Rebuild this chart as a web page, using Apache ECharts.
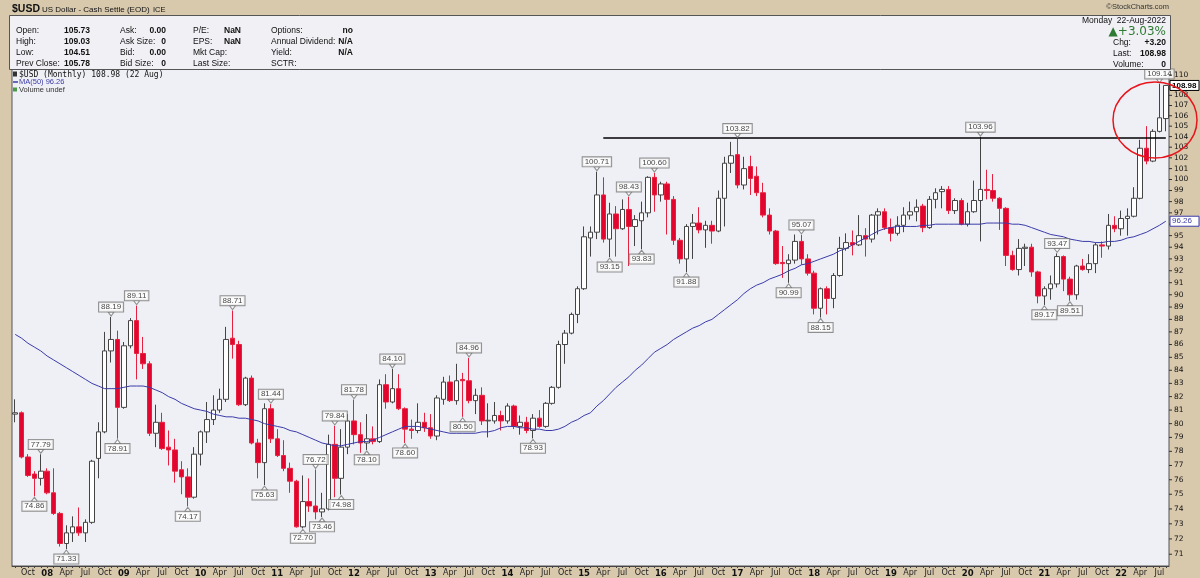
<!DOCTYPE html>
<html>
<head>
<meta charset="utf-8">
<script src="https://cdn.jsdelivr.net/npm/echarts@6/dist/echarts.min.js"></script>
<style>
  html, body { margin: 0; padding: 0; background: #d8c9ad; }
  #chart { width: 1200px; height: 578px; }
</style>
</head>
<body>
<div id="chart"></div>
<script>
// first monthly bar of the chart
const startYear = 2007, startMonth = 8;
const monthNames = ['Jan','Feb','Mar','Apr','May','Jun','Jul','Aug','Sep','Oct','Nov','Dec'];

// monthly bars: [open, high, low, close]
const candles = [
  // 2007 Aug-Dec
  [80.7, 81.8, 80.1, 80.8], [80.8, 80.9, 77.5, 77.6], [77.6, 77.8, 76.2, 76.3], [76.4, 76.6, 74.86, 76.1], [76.1, 77.79, 75.6, 76.6],
  // 2008
  [76.6, 76.8, 75.0, 75.1], [75.1, 76.8, 73.6, 73.7], [73.7, 73.8, 71.5, 71.7], [71.7, 72.9, 71.33, 72.4], [72.4, 73.5, 71.8, 72.8], [72.8, 74.1, 72.2, 72.4],
  [72.4, 73.3, 71.8, 73.1], [73.1, 77.4, 73.0, 77.3], [77.5, 80.1, 76.1, 79.4], [79.4, 87.0, 79.3, 85.5], [85.5, 88.19, 84.6, 86.4], [86.4, 87.1, 78.91, 81.2],
  // 2009
  [81.2, 86.2, 81.1, 85.9], [85.9, 88.1, 85.7, 87.9], [87.9, 89.11, 83.3, 85.3], [85.3, 86.6, 84.1, 84.5], [84.5, 84.7, 79.1, 79.3], [79.3, 81.4, 78.3, 80.1],
  [80.1, 80.8, 78.1, 78.2], [78.3, 79.5, 77.0, 78.1], [78.1, 78.9, 75.8, 76.6], [76.7, 77.3, 75.0, 76.2], [76.2, 76.8, 74.17, 74.8], [74.8, 78.3, 74.7, 77.8],
  // 2010
  [77.8, 79.5, 77.0, 79.4], [79.4, 81.6, 78.6, 80.3], [80.3, 82.1, 79.9, 81.0], [81.0, 82.6, 80.8, 81.8], [81.8, 87.4, 81.6, 86.4], [86.5, 88.71, 84.9, 86.0],
  [86.0, 86.3, 81.3, 81.4], [81.4, 83.5, 81.3, 83.4], [83.4, 83.6, 78.5, 78.6], [78.6, 78.9, 76.1, 77.2], [77.2, 81.5, 75.63, 81.1], [81.1, 81.44, 78.6, 78.9],
  // 2011
  [78.9, 79.6, 77.6, 77.7], [77.7, 78.8, 76.6, 76.8], [76.8, 77.2, 75.1, 75.9], [75.9, 76.0, 72.75, 72.8], [72.8, 76.3, 72.70, 74.5], [74.5, 76.1, 73.8, 74.2],
  [74.2, 76.72, 73.3, 73.8], [73.8, 75.1, 73.46, 74.0], [74.0, 79.2, 73.9, 78.5], [78.5, 79.84, 74.8, 76.1], [76.1, 79.6, 74.98, 78.3], [78.3, 80.7, 77.8, 80.2],
  // 2012
  [80.2, 81.78, 78.5, 79.2], [79.2, 80.1, 77.9, 78.6], [78.6, 80.7, 78.10, 78.9], [78.9, 79.8, 78.5, 78.7], [78.7, 83.3, 78.6, 82.9], [82.9, 83.7, 81.1, 81.6],
  [81.6, 84.10, 81.5, 82.6], [82.6, 83.7, 81.0, 81.1], [81.1, 81.2, 78.60, 79.6], [79.6, 80.3, 78.9, 79.5], [79.5, 81.5, 79.3, 80.1], [80.1, 80.8, 79.4, 79.7],
  // 2013
  [79.7, 80.7, 78.9, 79.1], [79.1, 82.1, 78.8, 81.9], [81.8, 83.5, 81.4, 83.1], [83.1, 83.6, 81.6, 81.7], [81.7, 84.5, 81.4, 83.2], [83.3, 83.8, 80.50, 83.2],
  [83.2, 84.96, 81.5, 81.7], [81.7, 82.6, 80.7, 82.1], [82.1, 82.7, 79.9, 80.2], [80.2, 81.5, 79.0, 80.25], [80.2, 81.6, 80.0, 80.6], [80.6, 80.95, 79.5, 80.2],
  // 2014
  [80.2, 81.5, 80.0, 81.3], [81.3, 81.4, 79.6, 79.8], [79.8, 80.6, 79.2, 80.1], [80.1, 80.5, 79.3, 79.5], [79.5, 80.7, 78.93, 80.4], [80.4, 81.0, 79.7, 79.8],
  [79.8, 81.6, 79.7, 81.5], [81.5, 82.8, 81.4, 82.7], [82.7, 86.3, 82.6, 86.0], [86.0, 87.15, 84.5, 86.9], [86.9, 88.55, 86.8, 88.4], [88.4, 90.7, 87.7, 90.5],
  // 2015
  [90.5, 95.8, 90.4, 94.9], [94.8, 95.8, 93.2, 95.3], [95.3, 100.71, 94.7, 98.6], [98.6, 100.2, 94.4, 94.7], [94.7, 97.9, 93.15, 96.9], [96.9, 97.6, 93.2, 95.6],
  [95.6, 98.2, 95.5, 97.3], [97.3, 98.43, 92.4, 95.8], [95.8, 96.8, 94.1, 96.4], [96.3, 98.0, 93.83, 97.0], [97.0, 100.3, 96.6, 100.2], [100.2, 100.60, 97.1, 98.6],
  // 2016
  [98.6, 99.8, 98.0, 99.6], [99.6, 99.8, 95.1, 98.2], [98.2, 98.5, 94.2, 94.6], [94.6, 94.8, 92.6, 93.0], [93.0, 96.0, 91.88, 95.8], [95.8, 96.9, 93.0, 96.1],
  [96.1, 97.5, 95.2, 95.5], [95.5, 96.3, 93.95, 95.9], [95.9, 96.3, 94.3, 95.4], [95.4, 99.0, 95.3, 98.3], [98.3, 102.1, 95.8, 101.5], [101.5, 103.5, 100.6, 102.2],
  // 2017
  [102.3, 103.82, 99.2, 99.5], [99.5, 102.1, 99.1, 101.0], [101.2, 102.2, 98.6, 100.1], [100.3, 101.2, 98.5, 98.8], [98.8, 99.7, 96.6, 96.8], [96.8, 97.4, 95.1, 95.4],
  [95.4, 95.5, 92.5, 92.6], [92.7, 94.1, 91.4, 92.6], [92.6, 93.4, 90.99, 92.9], [92.9, 95.1, 92.6, 94.5], [94.5, 95.07, 92.5, 93.0], [93.0, 93.4, 91.6, 91.8],
  // 2018
  [91.8, 92.0, 88.4, 88.9], [88.9, 90.6, 88.15, 90.5], [90.5, 90.7, 88.4, 89.7], [89.7, 91.8, 88.9, 91.6], [91.6, 94.9, 91.5, 93.9], [93.9, 95.2, 93.7, 94.4],
  [94.4, 95.45, 93.3, 94.2], [94.2, 96.8, 94.1, 95.0], [95.0, 95.65, 93.2, 94.7], [94.7, 96.9, 94.4, 96.8], [96.8, 97.4, 95.1, 97.1], [97.1, 97.4, 95.5, 95.7],
  // 2019
  [95.7, 96.5, 94.5, 95.2], [95.2, 96.7, 95.0, 95.9], [95.9, 97.5, 95.3, 96.8], [96.8, 98.0, 96.4, 97.1], [97.1, 98.2, 96.25, 97.5], [97.6, 97.8, 95.3, 95.7],
  [95.7, 98.5, 95.6, 98.2], [98.2, 99.2, 97.4, 98.8], [98.9, 99.4, 97.4, 99.1], [99.1, 99.4, 96.9, 97.2], [97.2, 98.3, 96.9, 98.1], [98.1, 98.3, 95.9, 96.0],
  // 2020
  [96.0, 97.9, 95.8, 97.1], [97.1, 99.9, 97.0, 98.1], [98.1, 103.96, 94.5, 99.1], [99.1, 100.9, 98.2, 99.0], [99.0, 100.5, 98.0, 98.3], [98.3, 98.4, 95.5, 97.4],
  [97.4, 97.5, 92.4, 93.3], [93.3, 93.7, 92.0, 92.1], [92.1, 94.7, 91.6, 93.9], [93.9, 94.3, 92.4, 94.0], [94.0, 94.3, 91.5, 91.9], [91.9, 92.0, 89.3, 89.9],
  // 2021
  [89.9, 90.7, 89.17, 90.5], [90.5, 91.6, 89.6, 90.9], [90.9, 93.47, 90.6, 93.2], [93.2, 93.3, 90.3, 91.3], [91.3, 91.5, 89.51, 90.0], [90.0, 92.5, 89.6, 92.4],
  [92.4, 93.0, 92.0, 92.1], [92.1, 93.4, 91.8, 92.6], [92.6, 94.4, 91.8, 94.2], [94.2, 94.5, 93.1, 94.1], [94.1, 96.9, 93.8, 95.9], [95.9, 96.7, 95.3, 95.6],
  // 2022 Jan-Aug
  [95.6, 97.2, 95.0, 96.5], [96.5, 97.4, 95.0, 96.7], [96.7, 99.3, 96.6, 98.3], [98.3, 103.7, 98.2, 102.9], [102.9, 105.0, 101.4, 101.7], [101.7, 104.7, 101.6, 104.5],
  [104.5, 109.14, 104.4, 105.8], [105.73, 109.03, 104.51, 108.98]
];

// 50-month moving average as drawn
const ma50 = [
  86.8, 86.5, 86.1, 85.8, 85.5, 85.1, 84.8, 84.5, 84.2, 83.9,
  83.6, 83.3, 83.0, 82.8, 82.6, 82.6, 82.6, 82.7, 82.8, 82.8,
  82.8, 82.7, 82.5, 82.3, 82.0, 81.8, 81.5, 81.3, 81.1, 81.0,
  80.9, 80.7, 80.6, 80.5, 80.5, 80.4, 80.4, 80.3, 80.2, 80.0,
  79.9, 79.8, 79.7, 79.5, 79.4, 79.2, 79.0, 78.8, 78.6, 78.5,
  78.4, 78.4, 78.5, 78.6, 78.7, 78.7, 78.8, 79.0, 79.2, 79.4,
  79.6, 79.8, 79.8, 79.8, 79.7, 79.6, 79.5, 79.4, 79.3, 79.3,
  79.3, 79.3, 79.3, 79.4, 79.4, 79.5, 79.7, 79.8, 79.8, 79.7,
  79.7, 79.6, 79.6, 79.5, 79.5, 79.6, 79.8, 80.1, 80.3, 80.6,
  80.8, 81.3, 81.7, 82.2, 82.7, 83.1, 83.5, 84.0, 84.4, 84.9,
  85.4, 85.7, 86.0, 86.4, 86.7, 87.0, 87.3, 87.5, 87.8, 88.0,
  88.4, 88.8, 89.2, 89.6, 90.1, 90.5, 90.8, 91.0, 91.3, 91.5,
  91.7, 92.0, 92.2, 92.5, 92.6, 92.8, 93.0, 93.2, 93.4, 93.7,
  93.9, 94.2, 94.5, 94.8, 95.1, 95.4, 95.6, 95.7, 95.8, 95.8,
  95.8, 95.8, 95.9, 95.9, 96.0, 96.0, 96.0, 96.0, 96.0, 96.0,
  96.0, 96.0, 96.1, 96.1, 96.1, 96.1, 96.0, 96.0, 95.9, 95.7,
  95.5, 95.3, 95.1, 95.0, 94.9, 94.7, 94.6, 94.5, 94.5, 94.4,
  94.4, 94.5, 94.5, 94.6, 94.8, 94.9, 95.1, 95.3, 95.6, 95.9,
  96.26
];

// annotated highs and lows: [bar index, value]
const peakMarks = [
  [4, 77.79], [15, 88.19], [19, 89.11], [34, 88.71], [40, 81.44], [47, 76.72], [50, 79.84], [53, 81.78],
  [59, 84.10], [71, 84.96], [91, 100.71], [96, 98.43], [100, 100.60], [113, 103.82], [123, 95.07],
  [151, 103.96], [163, 93.47], [179, 109.14]
];
const troughMarks = [
  [3, 74.86], [8, 71.33], [16, 78.91], [27, 74.17], [39, 75.63], [45, 72.70], [48, 73.46], [51, 74.98],
  [55, 78.10], [61, 78.60], [70, 80.50], [81, 78.93], [93, 93.15], [98, 93.83], [105, 91.88],
  [121, 90.99], [126, 88.15], [161, 89.17], [165, 89.51]
];

// resistance line drawn across the two tops
const resistanceStart = 92;
const resistanceLevel = 103.9;

// right price scale labels
const priceTicks = [71, 72, 73, 74, 75, 76, 77, 78, 79, 80, 81, 82, 83, 84, 85, 86, 87, 88, 89, 90,
  91, 92, 93, 94, 95, 96, 97, 98, 99, 100, 101, 102, 103, 104, 105, 106, 107, 108, 109, 110];

const lastClose = 108.98;
const lastMA = 96.26;

const categories = [];
for (let i = 0; i < candles.length; i++) {
  const m = startMonth - 1 + i;
  const y = startYear + Math.floor(m / 12);
  categories.push(y + '-' + String(m % 12 + 1).padStart(2, '0'));
}

const FONT = 'Liberation Sans, Arial, sans-serif';
const chart = echarts.init(document.getElementById('chart'));

function txt(text, x, y, opt) {
  opt = opt || {};
  return {
    type: 'text', x: x, y: y, silent: true, z: 50,
    style: {
      text: text, fill: opt.color || '#111',
      font: (opt.bold ? 'bold ' : '') + (opt.size || 8.5) + 'px ' + (opt.family || FONT),
      textAlign: opt.align || 'left', textVerticalAlign: 'middle'
    }
  };
}

const rowsY = [31, 42, 53, 64];
const graphics = [
  { type: 'rect', shape: { x: 9.5, y: 15.5, width: 1161, height: 54 }, style: { fill: '#f0f0f5', stroke: '#555', lineWidth: 1 }, z: 40, silent: true },
  txt('$USD', 12, 9, { bold: true, size: 10.5 }),
  txt('US Dollar - Cash Settle (EOD)', 42, 9.5, { size: 8 }),
  txt('ICE', 153, 9.5, { size: 7.5 }),
  txt('\u00a9StockCharts.com', 1169, 7, { size: 7.5, align: 'right', color: '#333' }),
  txt('Open:', 16, rowsY[0]), txt('High:', 16, rowsY[1]), txt('Low:', 16, rowsY[2]), txt('Prev Close:', 16, rowsY[3]),
  txt('105.73', 64, rowsY[0], { bold: true }), txt('109.03', 64, rowsY[1], { bold: true }),
  txt('104.51', 64, rowsY[2], { bold: true }), txt('105.78', 64, rowsY[3], { bold: true }),
  txt('Ask:', 120, rowsY[0]), txt('Ask Size:', 120, rowsY[1]), txt('Bid:', 120, rowsY[2]), txt('Bid Size:', 120, rowsY[3]),
  txt('0.00', 166, rowsY[0], { bold: true, align: 'right' }), txt('0', 166, rowsY[1], { bold: true, align: 'right' }),
  txt('0.00', 166, rowsY[2], { bold: true, align: 'right' }), txt('0', 166, rowsY[3], { bold: true, align: 'right' }),
  txt('P/E:', 193, rowsY[0]), txt('EPS:', 193, rowsY[1]), txt('Mkt Cap:', 193, rowsY[2]), txt('Last Size:', 193, rowsY[3]),
  txt('NaN', 224, rowsY[0], { bold: true }), txt('NaN', 224, rowsY[1], { bold: true }),
  txt('Options:', 271, rowsY[0]), txt('Annual Dividend:', 271, rowsY[1]), txt('Yield:', 271, rowsY[2]), txt('SCTR:', 271, rowsY[3]),
  txt('no', 353, rowsY[0], { bold: true, align: 'right' }), txt('N/A', 353, rowsY[1], { bold: true, align: 'right' }),
  txt('N/A', 353, rowsY[2], { bold: true, align: 'right' }),
  txt('Monday  22-Aug-2022', 1166, 20.5, { align: 'right' }),
  txt('\u25b2+3.03%', 1166, 31.5, { align: 'right', size: 12, color: '#2f7a34', family: 'DejaVu Sans, sans-serif' }),
  txt('Chg:', 1113, 43), txt('+3.20', 1166, 43, { bold: true, align: 'right' }),
  txt('Last:', 1113, 54), txt('108.98', 1166, 54, { bold: true, align: 'right' }),
  txt('Volume:', 1113, 65), txt('0', 1166, 65, { bold: true, align: 'right' }),
  { type: 'rect', shape: { x: 13, y: 71.5, width: 4, height: 5 }, style: { fill: '#333' }, z: 50, silent: true },
  txt('$USD (Monthly) 108.98 (22 Aug)', 19, 74.5, { size: 8, family: 'DejaVu Sans Mono, monospace' }),
  { type: 'line', shape: { x1: 13, y1: 82, x2: 18, y2: 82 }, style: { stroke: '#3b3ba8', lineWidth: 1.5 }, z: 50, silent: true },
  txt('MA(50) 96.26', 19, 82, { size: 7.5, color: '#3b3ba8' }),
  { type: 'rect', shape: { x: 13, y: 87.5, width: 4, height: 4 }, style: { fill: '#4a9a4a' }, z: 50, silent: true },
  txt('Volume undef', 19, 89.5, { size: 7.5, color: '#333' }),
  { type: 'ellipse', shape: { cx: 1155, cy: 120, rx: 42, ry: 38 }, style: { fill: 'none', stroke: '#e8141c', lineWidth: 1.5 }, z: 60, silent: true }
];

function markSeries(data, up) {
  return {
    type: 'scatter', data: data, silent: true, z: 6,
    symbol: 'triangle', symbolSize: [6, 4], symbolRotate: up ? 180 : 0,
    symbolOffset: [0, up ? -3 : 3],
    itemStyle: { color: '#fff', borderColor: '#777', borderWidth: 1 },
    label: {
      show: true, position: up ? 'top' : 'bottom', distance: 0,
      formatter: p => p.value[1].toFixed(2),
      fontSize: 8, fontFamily: FONT, color: '#111', lineHeight: 9,
      backgroundColor: '#fff', borderColor: '#777', borderWidth: 1, padding: [0, 2, 0, 2]
    }
  };
}

chart.setOption({
  animation: false,
  backgroundColor: '#d8c9ad',
  graphic: graphics,
  grid: { left: 12, right: 31, top: 69, bottom: 11, show: true, backgroundColor: '#eff0f6', borderColor: '#555', borderWidth: 1 },
  xAxis: {
    type: 'category', data: categories,
    axisLine: { lineStyle: { color: '#444' } },
    axisTick: { show: true, interval: 0, length: 2, alignWithLabel: true, lineStyle: { color: '#444' } },
    axisLabel: {
      interval: 0, margin: 3, fontSize: 8, fontFamily: 'DejaVu Sans, sans-serif', color: '#222',
      formatter: function (v) {
        const m = +v.slice(5);
        if (m === 1) return '{y|' + v.slice(2, 4) + '}';
        if (m === 4 || m === 7 || m === 10) return monthNames[m - 1];
        return '';
      },
      rich: { y: { fontWeight: 'bold', fontSize: 8.5, fontFamily: 'DejaVu Sans, sans-serif', color: '#111' } }
    },
    splitLine: { show: false }
  },
  yAxis: {
    type: 'log', logBase: 10, position: 'right', min: 70.24, max: 110.63,
    axisLine: { show: false }, axisTick: { show: false }, axisLabel: { show: false }, splitLine: { show: false }
  },
  series: [
    {
      type: 'candlestick', name: '$USD', barWidth: 5,
      data: candles.map(c => [c[0], c[3], c[2], c[1]]),
      itemStyle: { color: '#ffffff', color0: '#e2062f', borderColor: '#444', borderColor0: '#e8203f', borderColorDoji: '#444', borderWidth: 1 },
      markLine: {
        silent: true, symbol: 'none', label: { show: false },
        lineStyle: { color: '#000', width: 1.5, type: 'solid' },
        data: [[{ coord: [categories[resistanceStart], resistanceLevel] }, { coord: [categories[candles.length - 1], resistanceLevel] }]]
      }
    },
    {
      type: 'line', name: 'MA(50)', data: ma50, symbol: 'none', silent: true, z: 4,
      lineStyle: { color: '#3b3ba8', width: 1 }
    },
    markSeries(peakMarks, true),
    markSeries(troughMarks, false),
    {
      type: 'custom', name: 'scale', silent: true, clip: false, z: 8,
      data: priceTicks.map(v => [0, v]),
      renderItem: function (params, api) {
        const cs = params.coordSys;
        const y = api.coord([0, api.value(1)])[1];
        const x0 = cs.x + cs.width;
        return {
          type: 'group', children: [
            { type: 'line', shape: { x1: x0, y1: y, x2: x0 + 3, y2: y }, style: { stroke: '#333', lineWidth: 1 } },
            { type: 'text', style: { text: String(api.value(1)), x: x0 + 5, y: y, textVerticalAlign: 'middle', fill: '#111', font: '7.5px DejaVu Sans, sans-serif' } }
          ]
        };
      }
    },
    {
      type: 'custom', name: 'tags', silent: true, clip: false, z: 9,
      data: [[candles.length - 1, lastMA, 0], [candles.length - 1, lastClose, 1]],
      renderItem: function (params, api) {
        const cs = params.coordSys;
        const y = api.coord([0, api.value(1)])[1];
        const x0 = cs.x + cs.width + 1;
        const isLast = api.value(2) === 1;
        const col = isLast ? '#000' : '#3b3ba8';
        return {
          type: 'group', children: [
            { type: 'rect', shape: { x: x0, y: y - 5, width: 29, height: 10 }, style: { fill: '#fff', stroke: col, lineWidth: 1 } },
            { type: 'text', style: { text: api.value(1).toFixed(2), x: x0 + 2, y: y, textVerticalAlign: 'middle', fill: col, font: (isLast ? 'bold ' : '') + '8px Liberation Sans, sans-serif' } }
          ]
        };
      }
    }
  ]
});
</script>
</body>
</html>
